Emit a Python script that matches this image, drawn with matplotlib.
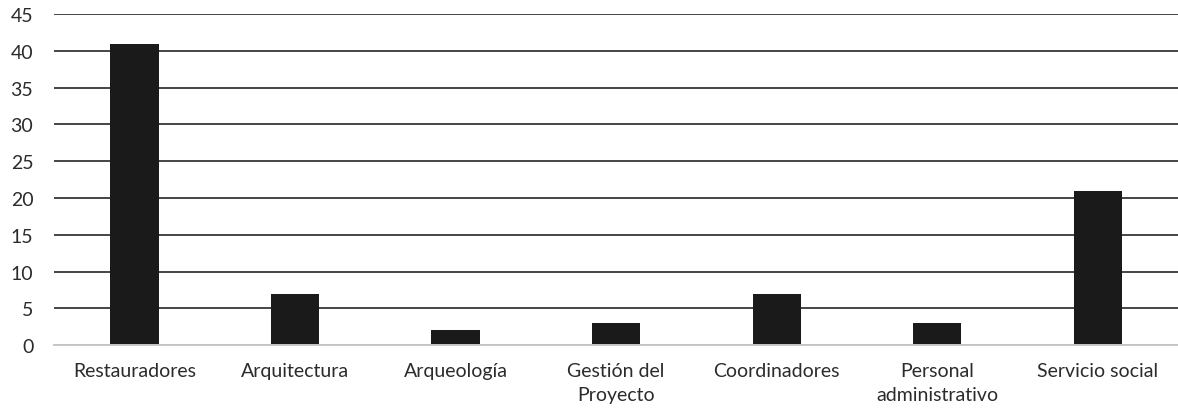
import matplotlib
matplotlib.use("Agg")
import matplotlib.pyplot as plt

categories = ["Restauradores", "Arquitectura", "Arqueología", "Gestión del\nProyecto",
              "Coordinadores", "Personal\nadministrativo", "Servicio social"]
values = [41, 7, 2, 3, 7, 3, 21]
yticks = [0, 5, 10, 15, 20, 25, 30, 35, 40, 45]

plt.rcParams['font.family'] = ['Lato', 'DejaVu Sans']

fig = plt.figure(figsize=(11.78, 4.10), dpi=100)
ax = fig.add_axes([0.046, 0.156, 0.954, 0.807])

x = list(range(len(categories)))
ax.bar(x, values, width=0.3, color='#1a1a1a', zorder=3)
ax.set_xlim(-0.5, len(categories) - 0.5)
ax.set_ylim(0, 45)
ax.set_yticks(yticks)
ax.set_xticks(x)
ax.set_xticklabels(categories, fontsize=14, color='#2b2b2b', linespacing=1.55)
ax.tick_params(axis='y', labelsize=14, labelcolor='#2b2b2b', length=0, pad=15)
ax.tick_params(axis='x', length=0, pad=12)
ax.grid(axis='y', color='#444444', linewidth=1.4, zorder=0)
for s in ['top', 'right', 'left']:
    ax.spines[s].set_visible(False)
ax.spines['bottom'].set_color('#c8c8c8')
ax.spines['bottom'].set_linewidth(1.4)
ax.spines['bottom'].set_zorder(4)

fig.savefig("out.png", dpi=100)
